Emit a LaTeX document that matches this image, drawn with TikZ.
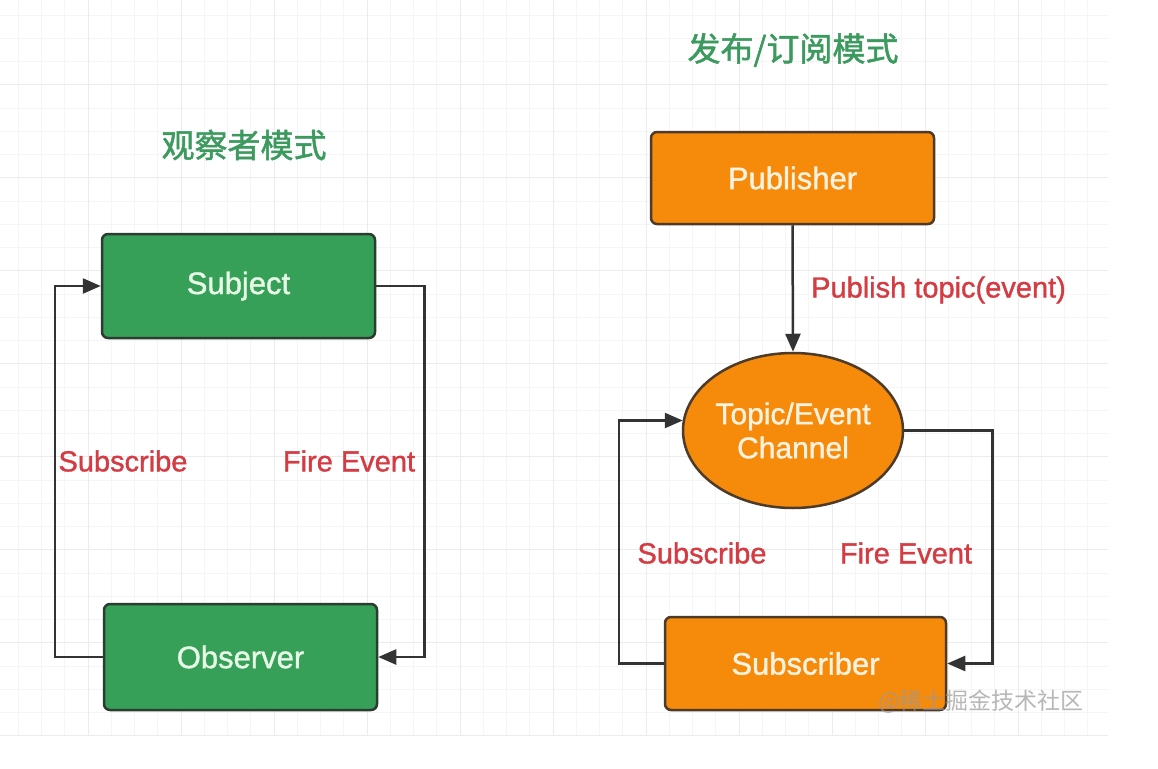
\documentclass[tikz,border=0pt]{standalone}
\usepackage{fontspec}
\setmainfont{Liberation Sans}
\newfontfamily\medsans[FakeBold=1.2]{Liberation Sans}
\newfontfamily\cjk[FakeBold=1.5]{Noto Sans CJK SC}
\newfontfamily\cjkwm{Noto Sans CJK SC}
\usetikzlibrary{arrows.meta,shapes.geometric}
\definecolor{gfill}{HTML}{36A059}
\definecolor{gline}{HTML}{2C3C30}
\definecolor{gtext}{HTML}{E8F8E6}
\definecolor{ofill}{HTML}{F68B0B}
\definecolor{oline}{HTML}{4E3A28}
\definecolor{otext}{HTML}{FFF2DE}
\definecolor{lbl}{HTML}{D43B42}
\definecolor{ttl}{HTML}{3C9A5F}
\definecolor{conn}{HTML}{333333}
\definecolor{gridminor}{HTML}{F5F5F5}
\definecolor{gridmajor}{HTML}{ECECEC}
\tikzset{
  gbox/.style={draw=gline, line width=2.5pt, fill=gfill, rounded corners=6pt, text=gtext,
    minimum width=273pt, inner sep=0pt, font=\medsans\fontsize{31}{36}\selectfont},
  obox/.style={draw=oline, line width=2.5pt, fill=ofill, rounded corners=6pt, text=otext,
    inner sep=0pt, font=\medsans\fontsize{31}{36}\selectfont},
  chanshape/.style={ellipse, draw=oline, line width=2.5pt, fill=ofill, text=otext, inner sep=0pt,
    minimum width=220pt, minimum height=155pt, align=center, font=\medsans\fontsize{30}{34}\selectfont},
  conline/.style={draw=conn, line width=2.5pt, -{Triangle[length=18pt,width=15pt]}},
  redlbl/.style={text=lbl, inner sep=0pt, font=\medsans\fontsize{29}{34}\selectfont},
  titletext/.style={text=ttl, inner sep=0pt, font=\cjk\fontsize{33}{38}\selectfont},
  wmark/.style={text=black!40, opacity=0.7, inner sep=0pt, font=\cjkwm\fontsize{23}{26}\selectfont},
}
\begin{document}
\begin{tikzpicture}[x=1pt,y=-1pt]
\useasboundingbox (0,0) rectangle (1158,768);
\fill[white] (0,0) rectangle (1158,768);
\begin{scope}
\clip (0,0) rectangle (1108,735);
\foreach \i in {0,...,47} {
  \draw[gridminor, line width=0.8pt] ({18.25+23.25*\i},0) -- ++(0,735);
}
\foreach \j in {0,...,31} {
  \draw[gridminor, line width=0.8pt] (0,{15+23.25*\j}) -- ++(1108,0);
}
\foreach \i in {0,...,12} {
  \draw[gridmajor, line width=1pt] ({-4.25+93*\i},0) -- ++(0,735);
}
\foreach \j in {0,...,8} {
  \draw[gridmajor, line width=1pt] (0,{-8.25+93*\j}) -- ++(1108,0);
}
\end{scope}

% titles
\node[titletext] (t1) at (244,145) {观察者模式};
\node[titletext] (t2) at (793,50) {发布/订阅模式};

% observer pattern
\node[gbox, minimum height=104pt] (subj) at (238.5,286) {Subject};
\node[gbox, minimum height=106pt] (obs) at (240.5,657) {Observer};
\draw[conline] (obs.west) -- ++(-48,0) |- (subj.west);
\draw[conline] (subj.east) -- ++(48,0) |- (obs.east);
\node[redlbl] (l1) at (123,461) {Subscribe};
\node[redlbl] (l2) at (349,461) {Fire Event};

% publish/subscribe pattern
\node[obox, minimum width=283pt, minimum height=92pt] (pub) at (792.5,178) {Publisher};
\node[chanshape] (chan) at (793,430.5) {Topic/Event\\Channel};
\node[obox, minimum width=281pt, minimum height=93pt] (subr) at (805.5,663.5) {Subscriber};
\draw[conline] (pub.south) -- (chan.north);
\node[redlbl, anchor=west] (l3) at (811,290) {Publish topic(event)};
\draw[conline] (subr.west) -- ++(-45,0) |- ([yshift=10pt,xshift=1pt]chan.west);
\draw[conline] (chan.east) -- ++(88,0) |- (subr.east);
\node[redlbl] (l4) at (702,553) {Subscribe};
\node[redlbl] (l5) at (906,553) {Fire Event};

\node[wmark] (wm) at (981,702) {@稀土掘金技术社区};
\end{tikzpicture}
\end{document}
